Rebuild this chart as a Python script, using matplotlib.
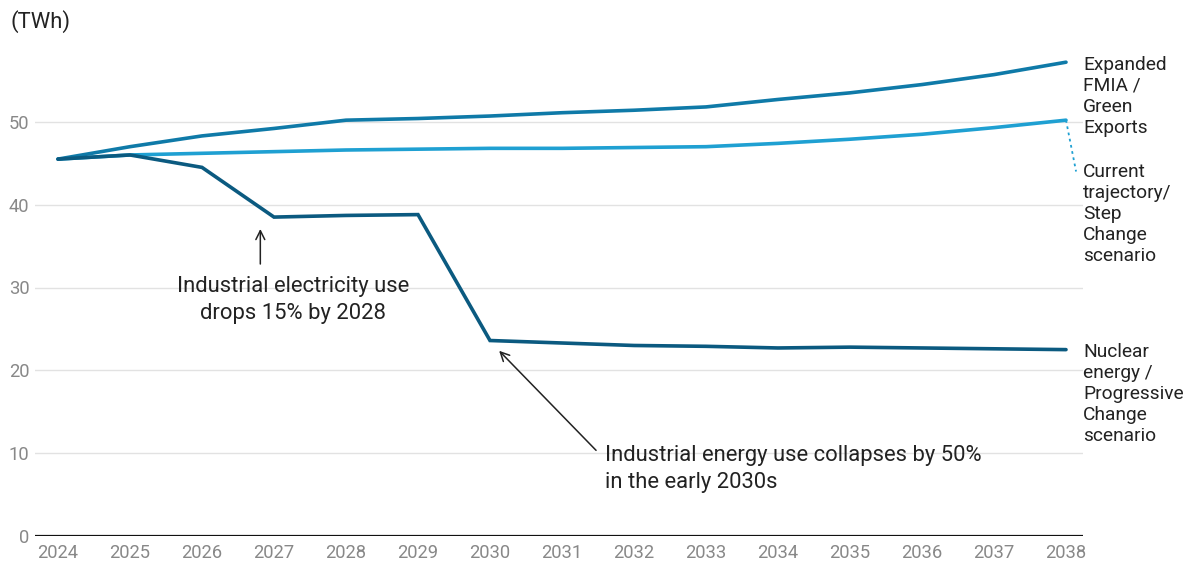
import matplotlib
matplotlib.use("Agg")
import matplotlib.pyplot as plt

years = list(range(2024, 2039))
expanded_fmia = [45.5, 47.0, 48.3, 49.2, 50.2, 50.4, 50.7, 51.1, 51.4, 51.8, 52.7, 53.5, 54.5, 55.7, 57.2]
current_traj = [45.5, 46.0, 46.2, 46.4, 46.6, 46.7, 46.8, 46.8, 46.9, 47.0, 47.4, 47.9, 48.5, 49.3, 50.2]
nuclear = [45.5, 46.0, 44.5, 38.5, 38.7, 38.8, 23.6, 23.3, 23.0, 22.9, 22.7, 22.8, 22.7, 22.6, 22.5]
yticks = [0, 10, 20, 30, 40, 50]

c_exp = "#0f7aa8"
c_cur = "#1fa0d2"
c_nuc = "#0b5a80"

plt.rcParams['font.family'] = ['Roboto', 'DejaVu Sans']

fig = plt.figure(figsize=(11.91, 5.65), dpi=100)
ax = fig.add_axes([35/1191, 1-536/565, (1083-35)/1191, (536-39)/565])
ax.set_xlim(2024 - 23/72, 2038 + 17/72)
ax.set_ylim(0, 60)

for s in ax.spines.values():
    s.set_visible(False)
ax.set_yticks(yticks)
ax.yaxis.grid(True, color="#e2e2e2", lw=1)
ax.set_axisbelow(True)
ax.axhline(0, color="#111111", lw=1.6, zorder=3)
ax.tick_params(axis='both', length=0, labelsize=13.2, labelcolor="#888888")
ax.tick_params(axis='y', pad=4)
ax.tick_params(axis='x', pad=6)
ax.set_xticks(years)

ax.plot(years, current_traj, color=c_cur, lw=2.6, solid_capstyle='round', zorder=4)
ax.plot(years, expanded_fmia, color=c_exp, lw=2.6, solid_capstyle='round', zorder=5)
ax.plot(years, nuclear, color=c_nuc, lw=2.6, solid_capstyle='round', solid_joinstyle='miter', zorder=6)

# dotted connector for Current trajectory label
ax.plot([years[-1], years[-1] + 0.14], [current_traj[-1], 44.0], color=c_cur, lw=1.3,
        ls=(0, (1.5, 2)), clip_on=False)

fig.text(10/1191, 1-22/565, "(TWh)", fontsize=15.8, color="#222222", va='center', ha='left')

lab_kw = dict(xycoords=('axes fraction', 'data'), fontsize=13.8, color="#222222",
              ha='left', va='center', linespacing=1.21, annotation_clip=False)
ax.annotate("Expanded\nFMIA /\nGreen\nExports", xy=(1.0, 53.1), **lab_kw)
ax.annotate("Current\ntrajectory/\nStep\nChange\nscenario", xy=(1.0, 38.9), **lab_kw)
ax.annotate("Nuclear\nenergy /\nProgressive\nChange\nscenario", xy=(1.0, 17.1), **lab_kw)

ax.annotate("", xy=(2026.81, 37.4), xytext=(2026.81, 32.5),
            arrowprops=dict(arrowstyle='->', color="#222222", lw=1.1, mutation_scale=16))
ax.text(2027.26, 28.5, "Industrial electricity use\ndrops 15% by 2028", fontsize=15.8,
        color="#222222", ha='center', va='center', linespacing=1.38)

ax.annotate("", xy=(2030.10, 22.6), xytext=(2031.5, 10.1),
            arrowprops=dict(arrowstyle='->', color="#222222", lw=1.1, mutation_scale=16))
ax.text(2031.6, 8.1, "Industrial energy use collapses by 50%\nin the early 2030s", fontsize=15.8,
        color="#222222", ha='left', va='center', linespacing=1.4)

fig.savefig("out.png", dpi=100)
